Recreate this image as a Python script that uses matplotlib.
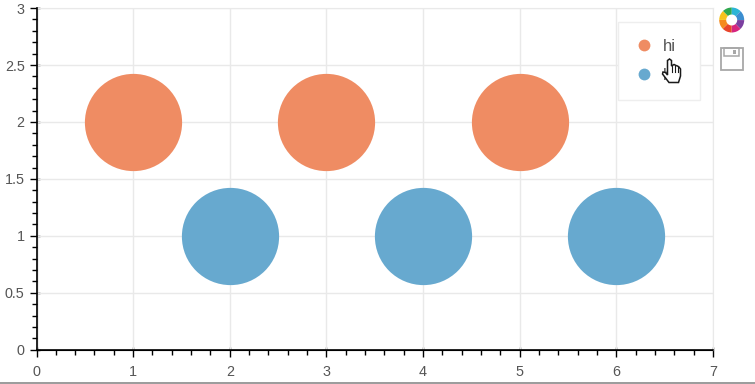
import matplotlib
matplotlib.use("Agg")
import matplotlib.pyplot as plt
from matplotlib.lines import Line2D
from matplotlib.patches import Wedge, Rectangle, Polygon
from matplotlib.ticker import MultipleLocator

plt.rcParams['font.family'] = ['Liberation Sans', 'DejaVu Sans']

# data
orange_x = [1, 3, 5]
orange_y = [2, 2, 2]
blue_x = [2, 4, 6]
blue_y = [1, 1, 1]
x_ticks = [0, 1, 2, 3, 4, 5, 6, 7]
x_labels = ["0", "1", "2", "3", "4", "5", "6", "7"]
y_ticks = [0, 0.5, 1, 1.5, 2, 2.5, 3]
y_labels = ["0", "0.5", "1", "1.5", "2", "2.5", "3"]
legend_labels = ["hi", "hi"]

ORANGE = "#EF8C63"
BLUE = "#67A9CF"
TEXT = "#555555"
W, H = 755, 384

fig = plt.figure(figsize=(W / 100, H / 100), dpi=100)
ax = fig.add_axes([36.5 / W, 1 - 349.7 / H, 676.5 / W, 341.6 / H])

ax.scatter(orange_x, orange_y, s=4900, color=ORANGE, linewidths=0, zorder=3, clip_on=False)
ax.scatter(blue_x, blue_y, s=4900, color=BLUE, linewidths=0, zorder=3, clip_on=False)

ax.set_xlim(0, 7)
ax.set_ylim(0, 3)
ax.set_xticks(x_ticks, x_labels)
ax.set_yticks(y_ticks, y_labels)
ax.xaxis.set_minor_locator(MultipleLocator(0.2))
ax.yaxis.set_minor_locator(MultipleLocator(0.1))
ax.tick_params(which="major", direction="out", length=5, width=1, color="black",
               labelsize=10.4, labelcolor=TEXT)
ax.tick_params(axis="x", which="major", pad=6)
ax.tick_params(axis="y", which="major", pad=3.5)
ax.tick_params(which="minor", direction="out", length=3.6, width=1, color="black")
ax.grid(True, which="major", color="#e9e9e9", linewidth=1, zorder=0)
ax.set_axisbelow(True)
for side in ["top", "right"]:
    ax.spines[side].set_color("#e9e9e9")
for side in ["left", "bottom"]:
    ax.spines[side].set_linewidth(1.2)
    ax.spines[side].set_zorder(5)

# bokeh major ticks also poke a little into the plot
sec_x = ax.secondary_xaxis("bottom")
sec_x.set_xticks(x_ticks, [])
sec_x.tick_params(direction="in", length=2, width=1, color="black")
sec_y = ax.secondary_yaxis("left")
sec_y.set_yticks(y_ticks, [])
sec_y.tick_params(direction="in", length=2, width=1, color="black")

handles = [Line2D([], [], linestyle="none", marker="o", markersize=8.5, color=ORANGE, markeredgewidth=0),
           Line2D([], [], linestyle="none", marker="o", markersize=8.5, color=BLUE, markeredgewidth=0)]
leg = ax.legend(handles, legend_labels, loc="upper left", mode="expand",
                bbox_to_anchor=(618 / W, 1 - 101 / H, 82 / W, 79 / H), bbox_transform=fig.transFigure,
                fontsize=12, labelcolor=TEXT, frameon=True, fancybox=False, framealpha=1,
                edgecolor="#eeeeee", borderaxespad=0, borderpad=1.0, labelspacing=0.86,
                handletextpad=0.6, handlelength=1.1)
leg.get_frame().set_linewidth(1)
leg.set_zorder(6)

# toolbar icons, cursor and screenshot edge, in pixel coordinates
over = fig.add_axes([0, 0, 1, 1], zorder=10)
over.set_xlim(0, W)
over.set_ylim(H, 0)
over.axis("off")
over.patch.set_alpha(0)

ring = ["#2FA84F", "#2AB5D6", "#3B8ED0", "#7B3FA0", "#D6247F", "#E8452C", "#F58A1F", "#F7C31C"]
for i, c in enumerate(ring):
    over.add_patch(Wedge((731.7, 20), 12.5, -112.5 + i * 45 - 22, -112.5 + i * 45 + 23, width=7, color=c, linewidth=0))

over.add_patch(Rectangle((720.5, 47.5), 22, 22, fill=False, edgecolor="#a8a8a8", linewidth=1.3))
over.add_patch(Rectangle((724, 47.5), 15, 8, fill=False, edgecolor="#a8a8a8", linewidth=1.1))
over.add_patch(Rectangle((733, 49.5), 3, 4, facecolor="#a8a8a8", linewidth=0))

hand = [(667.5, 60.5), (669.5, 59), (671.5, 60.5), (671.5, 66), (674, 64.5), (676, 65.5), (677.5, 66), (679, 67),
        (680.5, 69), (680.5, 76), (678.5, 82.5), (669, 82.5), (662.5, 74), (663, 72), (665.5, 72.5), (667.5, 75)]
over.add_patch(Polygon(hand, closed=True, facecolor="white", edgecolor="#1a1a1a", linewidth=1.1))
finger_lines = [[(671.5, 66), (671.5, 72)], [(675, 65.5), (675, 72)], [(678, 67), (678, 72)]]
for seg in finger_lines:
    over.plot(*zip(*seg), color="#1a1a1a", linewidth=0.8)

over.plot([0, W], [383, 383], color="#8a8a8a", linewidth=1.2)

fig.savefig("out.png", dpi=100)
